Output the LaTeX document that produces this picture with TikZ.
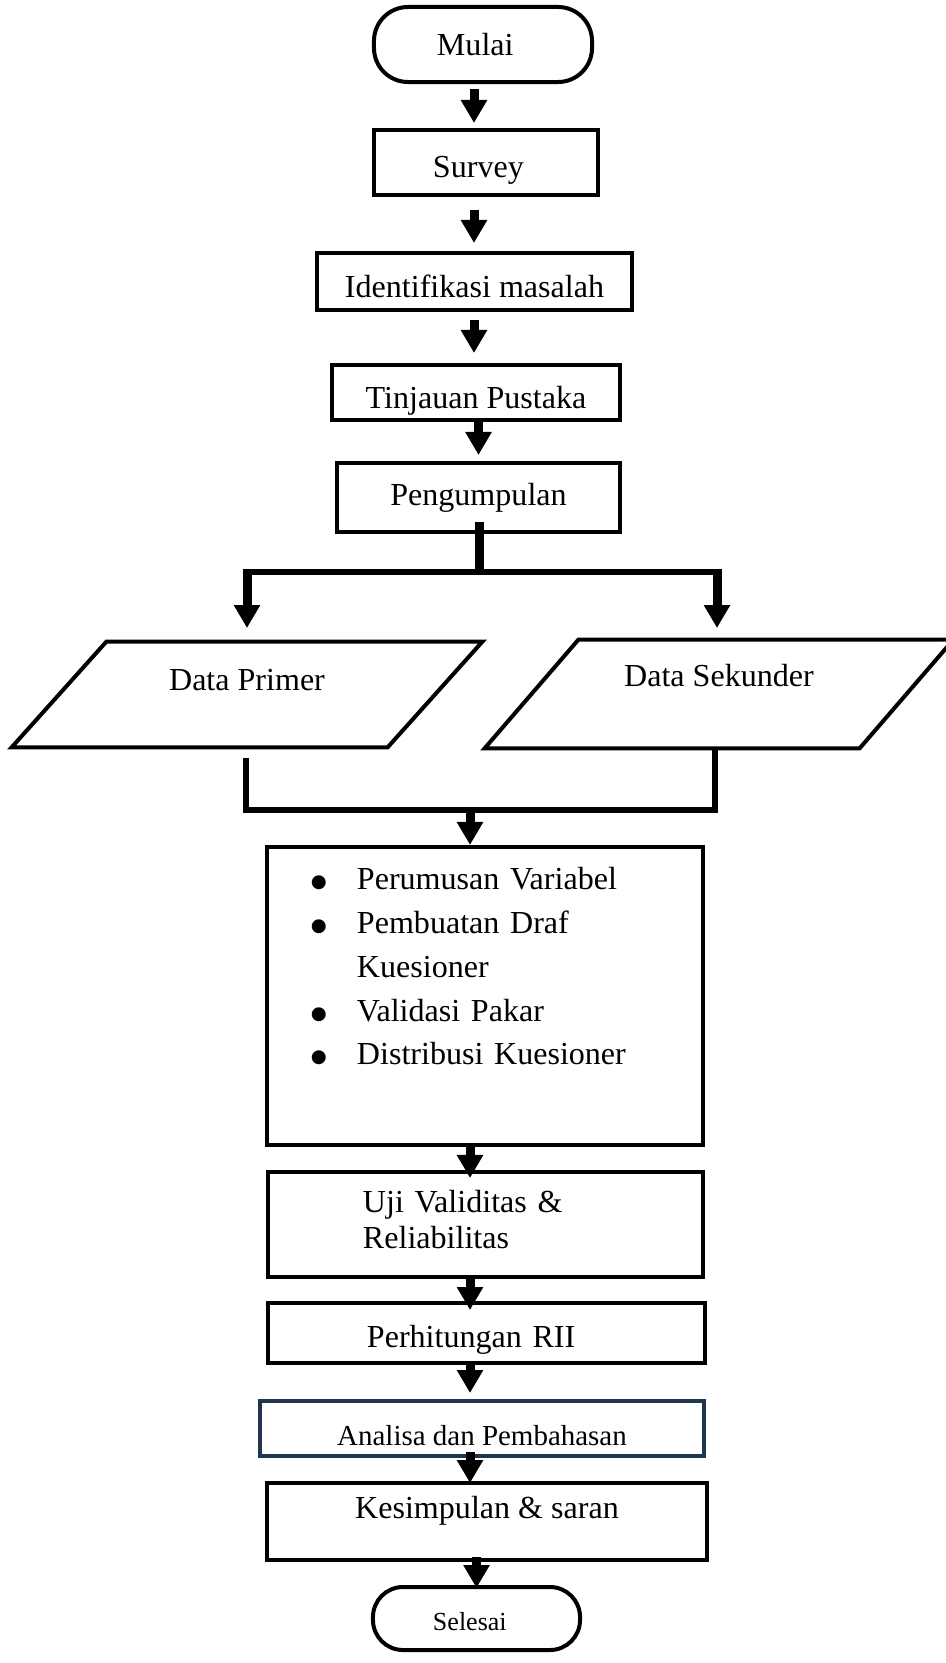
\documentclass[tikz,border=0pt]{standalone}
\usepackage{fontspec}
\setmainfont{Liberation Serif}
\newfontfamily\symfont{DejaVu Sans}
\usetikzlibrary{arrows.meta}
\definecolor{navy}{HTML}{1F3550}
\newcommand{\listdot}{\makebox[1.15cm][l]{\raisebox{0.05cm}{\symfont\fontsize{13}{13}\selectfont ●}}}

\begin{document}
\begin{tikzpicture}[x=0.025cm,y=-0.025cm,
				block/.style={rectangle,draw,line width=0.1cm,inner ysep=0pt,font=\fontsize{22.8}{27}\selectfont},
				term/.style={block,rounded corners=0.85cm},
				data/.style={rectangle,inner sep=0pt,minimum height=2.625cm,font=\fontsize{22.8}{27}\selectfont},
				frame/.style={line width=0.1cm,line join=miter},
				arrow/.style={line width=0.225cm,-{Triangle[width=0.625cm,length=0.575cm]}},
				stem/.style={line width=0.225cm},
				link/.style={line width=0.17cm,line cap=rect,line join=miter}]
				
				\fill[white] (0,0) rectangle (946,1663);
				\useasboundingbox (0,0) rectangle (946,1663);
				
				% Start and first steps
				\node[term,text width=2.3cm,inner xsep=1.575cm,align=left,text height=1.2cm,text depth=0.675cm] (mulai) at (483,44.5) {Mulai};
				\node[block,text width=2.65cm,inner xsep=1.475cm,align=left,text height=1.175cm,text depth=0.45cm] (survey) at (486,162.5) {Survey};
				\node[block,minimum width=7.875cm,text height=1.1cm,text depth=0.325cm] (identifikasi) at (474.5,281.5) {Identifikasi masalah};
				\node[block,minimum width=7.2cm,text height=1.075cm,text depth=0.3cm] (tinjauan) at (476,392.5) {Tinjauan Pustaka};
				\node[block,minimum width=7.075cm,text height=1.05cm,text depth=0.675cm] (pengumpulan) at (478.5,497.5) {Pengumpulan};
				
				% Data
				\node[data,minimum width=11.75cm,text height=0.5cm,text depth=0.725cm] (primer) at (247,694.5) {Data Primer};
				\node[data,minimum width=11.7cm,minimum height=2.7cm,text height=0.5cm,text depth=0.9cm] (sekunder) at (719,694) {Data Sekunder};
				\draw[frame] (primer.south west) -- ++(376,0) -- (primer.north east) -- ++(-376,0) -- cycle;
				\draw[frame] (sekunder.south west) -- ++(375,0) -- (sekunder.north east) -- ++(-375,0) -- cycle;
				
				% Processing
				\node[block,text width=8.7cm,inner xsep=1.1cm,align=left,text height=1.075cm,text depth=6.375cm,font=\fontsize{22.8}{31.1}\selectfont] (kuesioner) at (485,996)
				{\listdot Perumusan Variabel\\
					\listdot Pembuatan Draf\\
					\hspace*{1.15cm}Kuesioner\\
					\listdot Validasi Pakar\\
					\listdot Distribusi Kuesioner};
				\node[block,text width=6.125cm,inner xsep=2.375cm,align=left,text height=1cm,text depth=1.625cm,font=\fontsize{22.8}{25.6}\selectfont] (uji) at (485.5,1224.5) {Uji Validitas \&\\Reliabilitas};
				\node[block,text width=5.975cm,inner xsep=2.475cm,align=left,text height=1.1cm,text depth=0.4cm] (rii) at (486.5,1333) {Perhitungan RII};
				\node[block,draw=navy,minimum width=11.1cm,text height=1.1cm,text depth=0.275cm,font=\fontsize{20.6}{24}\selectfont] (analisa) at (482,1428.5) {Analisa dan Pembahasan};
				\node[block,minimum width=11cm,text height=0.875cm,text depth=1.05cm] (kesimpulan) at (487,1521.5) {Kesimpulan \& saran};
				\node[term,rounded corners=0.75cm,text width=2.175cm,inner xsep=1.5cm,align=left,text height=1.075cm,text depth=0.5cm,font=\fontsize{18.5}{22}\selectfont] (selesai) at (476.5,1618.5) {Selesai};
				
				% Connections, upper part
				\coordinate (top) at (474,0);
				\draw[arrow,shorten <=0.125cm,shorten >=0.125cm] (mulai.south -| top) -- (survey.north -| top);
				\draw[arrow,shorten <=0.325cm,shorten >=0.2cm] (survey.south -| top) -- (identifikasi.north -| top);
				\draw[arrow,shorten <=0.2cm,shorten >=0.25cm] (identifikasi.south -| top) -- (tinjauan.north -| top);
				\draw[arrow,shorten >=0.15cm] (tinjauan.south -| pengumpulan) -- (pengumpulan.north);
				
				% Split into the two data sources
				\coordinate (split) at (479,572);
				\coordinate (splitL) at (247,572);
				\coordinate (splitR) at (717,572);
				\coordinate (inL) at (247,628);
				\coordinate (inR) at (717,628);
				\draw[stem,shorten <=-0.3cm] (pengumpulan.south -| split) -- (split);
				\draw[link] (splitL) -- (splitR);
				\draw[arrow,shorten <=-0.075cm] (splitL) -- (inL);
				\draw[arrow,shorten <=-0.075cm] (splitR) -- (inR);
				
				% Merge
				\coordinate (outL) at (246,761);
				\coordinate (outR) at (715,753);
				\coordinate (merge) at (470,810);
				\draw[link] (outL) -- (outL |- merge) -- (outR |- merge);
				\draw[link] (outR) -- (outR |- merge);
				\draw[arrow] (merge) -- (merge |- kuesioner.north);
				
				% Connections, lower part
				\coordinate (low) at (470,0);
				\draw[arrow,shorten >=-0.2cm] (kuesioner.south -| low) -- (uji.north -| low);
				\draw[arrow,shorten >=-0.225cm] (uji.south -| low) -- (rii.north -| low);
				\draw[arrow,shorten >=0.15cm] (rii.south -| low) -- (analisa.north -| low);
				\draw[arrow,shorten <=-0.15cm,shorten >=-0.05cm] (analisa.south -| low) -- (kesimpulan.north -| low);
				\draw[arrow,shorten <=-0.125cm,shorten >=-0.075cm] (kesimpulan.south -| selesai) -- (selesai.north);
			\end{tikzpicture}
\end{document}
